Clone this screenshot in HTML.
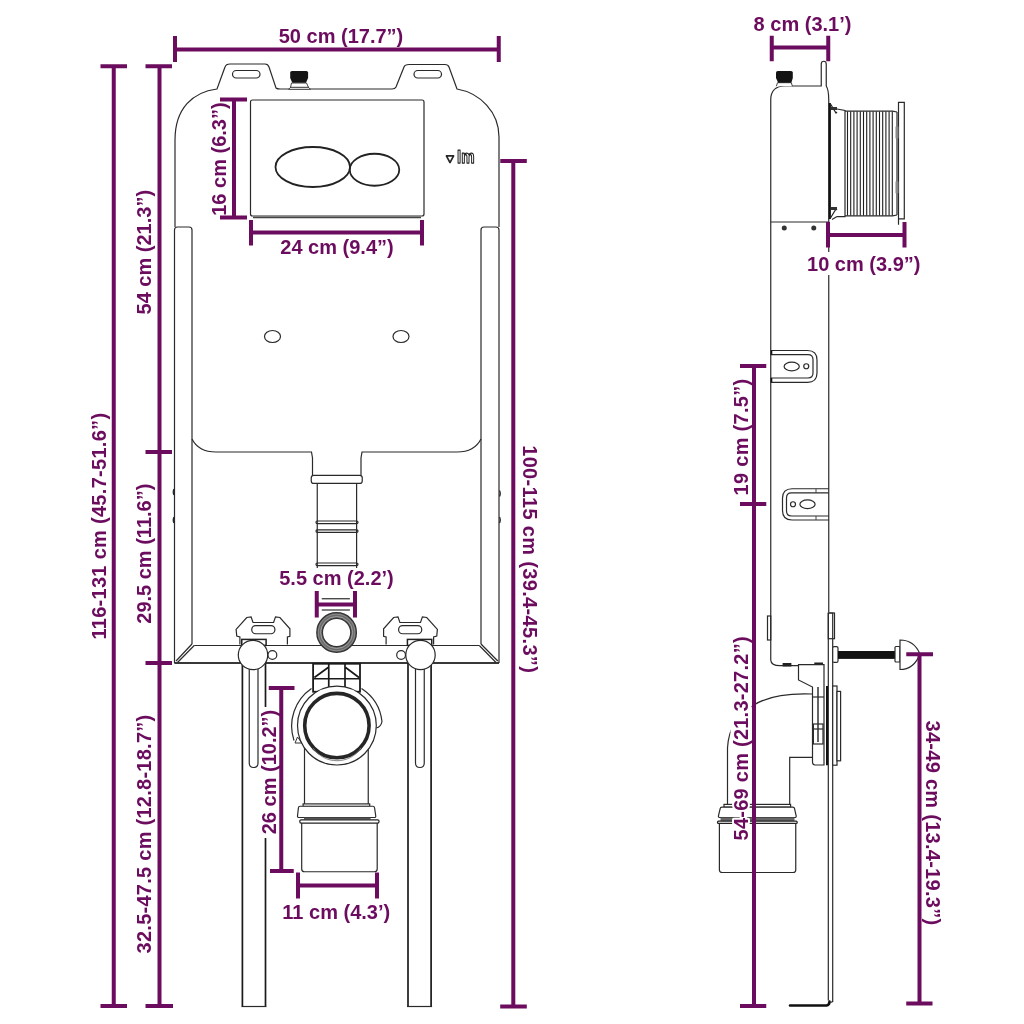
<!DOCTYPE html>
<html><head><meta charset="utf-8">
<style>
html,body{margin:0;padding:0;background:#fff;width:1024px;height:1024px;overflow:hidden}
svg{display:block;will-change:transform}
.t{font-family:"Liberation Sans",sans-serif;font-weight:bold;font-size:20px;fill:#6c0c5e}
.d{stroke:#6c0c5e;stroke-width:4;fill:none}
.k{stroke:#2a2a2a;stroke-width:1.2;fill:none}
.kw{stroke:#2a2a2a;stroke-width:1.2;fill:#fff}
.k2{stroke:#1a1a1a;stroke-width:1.7;fill:none}
</style></head><body>
<svg width="1024" height="1024" viewBox="0 0 1024 1024">
<rect width="1024" height="1024" fill="#fff"/>

<!-- ===== FRONT VIEW ===== -->
<g id="front">
  <!-- tank top outline -->
  <path class="k" d="M175,227 L175,140 C175,108 193,92 217,89 L225,67 Q226,64 230,64 L265,64 Q268,64 269,67 L276,88 Q277,89 280,89 L392,89 Q395,89 396,87 L404,67 Q405,64.5 409,64.5 L445,64.5 Q448,64.5 449,67 L457,89 C480,93 499,112 499,137 L499,227"/>
  <!-- slots -->
  <rect class="k" x="232.5" y="70.5" width="27.5" height="7.5" rx="3.7"/>
  <rect class="k" x="414" y="70.5" width="27.5" height="7.5" rx="3.7"/>
  <!-- knob -->
  <path d="M291.5,83 L306.5,83 L308.5,87.5 L310.5,89.3 L288.5,89.3 L290.5,87.5 Z" fill="#fff" stroke="#444" stroke-width="1"/>
  <line x1="290" y1="87.3" x2="309" y2="87.3" stroke="#333" stroke-width="1"/>
  <path d="M290.2,72.5 Q290.2,71 292,71 L306.3,71 Q308.1,71 308.1,72.5 L308.1,78 L306,82.8 L292.3,82.8 L290.2,78 Z" fill="#141414"/>
  <!-- flush panel -->
  <rect class="k" x="250.5" y="100" width="173.5" height="116" rx="2"/>
  <line x1="253" y1="217.5" x2="421" y2="217.5" stroke="#444" stroke-width="1.4"/>
  <ellipse cx="312.75" cy="167" rx="37.25" ry="20" fill="none" stroke="#222" stroke-width="1.8"/>
  <ellipse cx="374.5" cy="169.75" rx="24.75" ry="16" fill="none" stroke="#222" stroke-width="1.8"/>
  <!-- logo -->
  <path d="M446.4,155.9 L453.6,155.9 L450,162.6 Z" fill="none" stroke="#262626" stroke-width="1.7" stroke-linejoin="round"/>
  <text x="457" y="162.6" font-family="Liberation Sans" font-size="19" font-weight="bold" fill="#fff" stroke="#222" stroke-width="1.25" stroke-linejoin="round" textLength="17.5" lengthAdjust="spacingAndGlyphs">lm</text>
  <!-- side rails -->
  <path class="k" d="M174.5,663 L174.5,230 Q174.5,227 177.5,227 L189,227 Q192,227 192,230 L192,644"/>
  <path class="k" d="M499,663 L499,230 Q499,227 496,227 L484,227 Q481,227 481,230 L481,644"/>
  <!-- rail bumps -->
  <path d="M174,489 Q172.5,492 174,495 M174,517 Q172.5,520 174,523 M499.5,490.5 Q501,493.5 499.5,496.5 M499.5,517 Q501,520 499.5,523" fill="none" stroke="#222" stroke-width="1.3"/>
  <!-- holes -->
  <ellipse class="k" cx="272.5" cy="336.5" rx="8" ry="6"/>
  <ellipse class="k" cx="401" cy="336.5" rx="8" ry="6"/>
  <!-- inner tank bottom -->
  <path class="k" d="M192,439 C196,447 204,452 216,452 L311.5,452 L312.5,458 L312.5,475.3"/>
  <path class="k" d="M481,439 C477,447 469,452 457,452 L362,452 L361,458 L361,475.3"/>
  <!-- collar + tube -->
  <rect class="k" x="311.25" y="475.3" width="51" height="8.1" rx="2.5"/>
  <line class="k" x1="317.25" y1="483.4" x2="317.25" y2="568"/>
  <line class="k" x1="356.6" y1="483.4" x2="356.6" y2="568"/>
  <rect class="k" x="316" y="521" width="42" height="2.6" rx="1.3"/>
  <rect class="k" x="316" y="529.8" width="42" height="2.6" rx="1.3"/>
  <rect class="k" x="316" y="563" width="42" height="2.6" rx="1.3"/>
  <line class="k" x1="321.75" y1="598.75" x2="349.9" y2="598.75"/>
  <line class="k" x1="321.75" y1="610" x2="349.9" y2="610"/>
  <!-- tray -->
  <line class="k" x1="174.5" y1="663" x2="499" y2="663"/>
  <line class="k" x1="194.2" y1="645.5" x2="479.3" y2="645.5"/>
  <line class="k" x1="192" y1="644" x2="176" y2="661"/>
  <line class="k" x1="481" y1="644" x2="497.8" y2="661"/>
  <line x1="174.5" y1="663" x2="499" y2="663" stroke="#1a1a1a" stroke-width="1.4"/>
  <line class="k" x1="194.2" y1="645.5" x2="177.5" y2="662.5"/>
  <line class="k" x1="479.3" y1="645.5" x2="496" y2="662.5"/>
  <!-- small pipe -->
  <circle cx="336.6" cy="632.5" r="17" fill="none" stroke="#6a6a6a" stroke-width="5.5"/>
  <circle cx="336.6" cy="632.5" r="16" fill="none" stroke="#aaa" stroke-width="0.8"/>
  <circle cx="336.6" cy="632.5" r="18.3" fill="none" stroke="#999" stroke-width="0.7"/>
  <circle cx="336.6" cy="632.5" r="19.8" fill="none" stroke="#333" stroke-width="1.3"/>
  <circle cx="336.6" cy="632.5" r="14.2" fill="#fff" stroke="#333" stroke-width="1.3"/>
  <!-- brackets -->
  <g id="brk">
    <path class="kw" d="M239.9,644.4 L239.9,636.9 L236.75,636 L236.1,629.4 L246.75,617.5 L251.1,616.9 L253,622.5 L273.6,622.5 L275.5,616.9 L279.9,617.5 L289.9,628.75 L289.9,636.25 L287.4,636.9 L287.4,644.4"/>
    <rect class="k" x="251.75" y="625.6" width="23.15" height="8.15" rx="4"/>
    <rect x="241.75" y="639.4" width="24.35" height="6" fill="#fff" stroke="#222" stroke-width="1.5"/>
    <!-- leg -->
    <line class="k2" x1="242.4" y1="663" x2="242.4" y2="1006"/>
    <line class="k2" x1="265.5" y1="663" x2="265.5" y2="707"/>
    <line class="k2" x1="265.5" y1="838" x2="265.5" y2="1006"/>
    <path class="k" d="M241.4,1006.5 L266.5,1006.5"/>
    <path class="k" d="M249.25,669 L249.25,763 Q249.25,767.5 253.6,767.5 Q258,767.5 258,763 L258,669"/>
    <circle class="kw" cx="253" cy="655" r="14.7"/>
    <circle class="kw" cx="272.4" cy="655" r="4.4"/>
  </g>
  <g transform="translate(673.5,0) scale(-1,1)">
    <path class="kw" d="M239.9,644.4 L239.9,636.9 L236.75,636 L236.1,629.4 L246.75,617.5 L251.1,616.9 L253,622.5 L273.6,622.5 L275.5,616.9 L279.9,617.5 L289.9,628.75 L289.9,636.25 L287.4,636.9 L287.4,644.4"/>
    <rect class="k" x="251.75" y="625.6" width="23.15" height="8.15" rx="4"/>
    <rect x="241.75" y="639.4" width="24.35" height="6" fill="#fff" stroke="#222" stroke-width="1.5"/>
    <line class="k2" x1="242.4" y1="663" x2="242.4" y2="1006"/>
    <line class="k2" x1="265.5" y1="663" x2="265.5" y2="1006"/>
    <path class="k" d="M241.4,1006.5 L266.5,1006.5"/>
    <path class="k" d="M249.25,669 L249.25,763 Q249.25,767.5 253.6,767.5 Q258,767.5 258,763 L258,669"/>
    <circle class="kw" cx="253" cy="655" r="14.7"/>
    <circle class="kw" cx="272.4" cy="655" r="4.4"/>
  </g>
  <!-- central block -->
  <rect x="313.1" y="663.75" width="46.9" height="28" fill="#fff" stroke="#1a1a1a" stroke-width="1.8"/>
  <path class="k2" d="M328.75,663.75 L328.75,687 M345,663.75 L345,687 M313.1,678.75 L360,678.75 M314.4,677.5 L328.1,667.5 M359,677.5 L345.6,667.5" stroke-width="1.5"/>
  <!-- big pipe -->
  <line class="k" x1="304.5" y1="745" x2="304.5" y2="804"/>
  <line class="k" x1="368.25" y1="745" x2="368.25" y2="804"/>
  <path class="k" d="M311.5,688.5 A45.5,45.5 0 0 0 294,740.5 M361.5,688.5 A45.5,45.5 0 0 1 382,721.5 Q381,727 376.2,728"/>
  <path d="M295,743 L297.5,737 L302,743 Z" fill="none" stroke="#333" stroke-width="1"/>
  <circle class="kw" cx="336.9" cy="725.6" r="39.4"/>
  <circle cx="336.9" cy="725.6" r="32.2" fill="#fff" stroke="#262626" stroke-width="3.6"/>
  <path d="M313,748 A29,29 0 0 0 361,748" fill="none" stroke="#777" stroke-width="0.9"/>
  <!-- lower pipe collars -->
  <rect class="kw" x="303.1" y="803.9" width="66.6" height="2.6"/>
  <path class="kw" d="M300,806.25 L372.8,806.25 Q374.4,806.25 374.6,808 L375.75,816 Q375.9,817.5 374.3,817.5 L299,817.5 Q297.4,817.5 297.5,816 L298.4,808 Q298.6,806.25 300,806.25 Z"/>
  <rect x="304" y="817.5" width="66.6" height="2.1" fill="#555"/>
  <rect x="299.8" y="819.8" width="79.2" height="3.3" rx="1.3" fill="#fff" stroke="#222" stroke-width="1.2"/>
  <path class="k" d="M301.7,823.1 L301.7,869 Q301.7,871.75 304.5,871.75 L374.5,871.75 Q377.2,871.75 377.2,869 L377.2,823.1"/>
</g>

<!-- ===== SIDE VIEW ===== -->
<g id="side">
  <path class="k" d="M770.75,222 L770.75,100 Q770.75,86 785,86 L821.25,86 L821.25,64 Q821.25,61.25 823.75,61.25 Q826.25,61.25 826.25,64 L826.25,86 Q828.75,90 828.75,100 L828.75,222"/>
  <path d="M776.4,86.2 L777.5,82.7 L791.3,82.7 L792.4,86.2" fill="#fff" stroke="#444" stroke-width="1"/>
  <path d="M776,72.5 Q776,71 777.8,71 L791,71 Q792.8,71 792.8,72.5 L792.8,78 L791.3,82.7 L778.2,82.7 L776,78 Z" fill="#141414"/>
  <!-- flush mechanism -->
  <line x1="829.8" y1="103" x2="829.8" y2="219" stroke="#111" stroke-width="2.2"/>
  <path d="M830.5,104 L836,113 L837,112 M830.5,218 L836,209 L837,210" fill="none" stroke="#222" stroke-width="1.2"/>
  <rect x="831" y="107" width="6" height="3" fill="#333"/>
  <rect x="831" y="207" width="6" height="3" fill="#333"/>
  <path class="k" d="M837,109 L845,110.5 L845,216.6 L837,216.6 M832,219.5 L837,216.6"/>
  <path class="k" d="M845,111.2 L892.6,111.2 L897,112 M845,215.9 L892.6,215.9 L897,215"/>
  <g stroke="#1e1e1e" stroke-width="1.1"><line x1="847.5" y1="111.5" x2="847.5" y2="215.5"/><line x1="850.7" y1="111.5" x2="850.7" y2="215.5"/><line x1="853.9" y1="111.5" x2="853.9" y2="215.5"/><line x1="857.1" y1="111.5" x2="857.1" y2="215.5"/><line x1="860.3" y1="111.5" x2="860.3" y2="215.5"/><line x1="863.5" y1="111.5" x2="863.5" y2="215.5"/><line x1="866.7" y1="111.5" x2="866.7" y2="215.5"/><line x1="869.9" y1="111.5" x2="869.9" y2="215.5"/><line x1="873.1" y1="111.5" x2="873.1" y2="215.5"/><line x1="876.3" y1="111.5" x2="876.3" y2="215.5"/><line x1="879.5" y1="111.5" x2="879.5" y2="215.5"/><line x1="882.7" y1="111.5" x2="882.7" y2="215.5"/><line x1="885.9" y1="111.5" x2="885.9" y2="215.5"/><line x1="889.1" y1="111.5" x2="889.1" y2="215.5"/><line x1="892.3" y1="111.5" x2="892.3" y2="215.5"/></g>
  <line class="k" x1="897" y1="112" x2="897" y2="215"/>
  <path class="k" d="M898.5,102.4 L904.3,102.4 L904.3,218.8 L898.5,218.8 Z M898.5,218.8 L898.5,224.7"/>
  <rect x="895.5" y="126.6" width="3" height="11.7" fill="#888"/>
  <rect x="895.5" y="181.5" width="3" height="11.7" fill="#888"/>
  <!-- rail -->
  <line class="k" x1="770.75" y1="222" x2="828.75" y2="222"/>
  <circle cx="784.25" cy="228" r="2.5" fill="#333"/>
  <circle cx="813.75" cy="228" r="2.5" fill="#333"/>
  <path class="k" d="M770.75,222 L770.75,660 Q771,665.7 780,665.7 L798.4,665.7"/>
  <line class="k" x1="828.75" y1="247" x2="828.75" y2="252"/><line class="k" x1="828.75" y1="275" x2="828.75" y2="612.5"/>
  <!-- bracket 1 -->
  <path class="k" d="M770.75,350.5 L807.5,350.5 Q817,350.5 817,360 L817,373 Q817,382.3 807.5,382.3 L770.75,382.3 M770.75,354.6 L808,354.6 Q813,354.6 813,359.6 L813,373 Q813,378 808,378 L770.75,378"/>
  <path d="M771.5,350.5 L771.5,354.6 M771.5,378 L771.5,382.3" stroke="#111" stroke-width="1.6"/>
  <ellipse class="k" cx="791.7" cy="366.5" rx="7.6" ry="4.3"/>
  <circle class="k" cx="806.25" cy="366.25" r="2.5"/>
  <!-- bracket 2 -->
  <path class="k" d="M828.75,488.75 L792,488.75 Q782.5,488.75 782.5,498.25 L782.5,510.5 Q782.5,520 792,520 L828.75,520 M828.75,492.9 L791.5,492.9 Q786.5,492.9 786.5,497.9 L786.5,511 Q786.5,516 791.5,516 L828.75,516"/>
  <ellipse class="k" cx="807.5" cy="504.25" rx="7.6" ry="4.3"/>
  <circle class="k" cx="793" cy="504.25" r="2.5"/>
  <path d="M816,488.75 L816,493 M816,516 L816,520" stroke="#444" stroke-width="1"/>
  <!-- small tab -->
  <rect class="k" x="767.5" y="616" width="3.25" height="24"/>
  <!-- lower plate -->
  <path class="k" d="M828.3,613 L832.7,613 L832.7,1001.5 L830.5,1002.5 M828.3,613 L828.3,1000.5"/>
  <rect class="k" x="828.3" y="613" width="6.2" height="25.7"/>
  <path d="M790,1005.5 L826.5,1005.5 Q829.5,1005 829.5,1001.5" fill="none" stroke="#111" stroke-width="2.6" stroke-linecap="round"/>
  <!-- bolt -->
  <rect class="kw" x="832.7" y="646.6" width="5.3" height="15.8" rx="1.5"/>
  <rect x="838" y="651" width="57" height="7.9" fill="#111"/>
  <rect class="kw" x="895" y="646.5" width="5" height="15.5" rx="1"/>
  <path class="kw" d="M900,640 Q914,640 920,654 Q914,669.5 900,669.5 Z"/>
  <!-- black pads -->
  <rect x="782.6" y="663" width="8.8" height="3.5" fill="#222"/>
  <rect x="814.3" y="662.5" width="8.7" height="3" fill="#222"/>
  <!-- flange / bracket below tank -->
  <path class="kw" d="M798.5,664.7 L824,664.7 L824,765 L815,765 Q812.5,765 812.5,761.7 L812.5,687 L798.5,680 Z"/>
  <line x1="827" y1="686" x2="827" y2="765.2" stroke="#111" stroke-width="2"/>
  <rect class="kw" x="832.7" y="686" width="4.3" height="79.2"/>
  <rect class="kw" x="837" y="691.4" width="3.6" height="69.4"/>
  <line x1="818" y1="687" x2="818" y2="742" stroke="#111" stroke-width="1.3"/>
  <line class="k" x1="812.5" y1="697" x2="824" y2="697"/>
  <rect class="k" x="813.4" y="724" width="9.6" height="20"/>
  <line class="k" x1="813.4" y1="729" x2="823" y2="729"/>
  <!-- elbow -->
  <path class="k" d="M812,694 C785,693 765,698 753.9,705 C738,714 728.5,728 727.5,748 L727.5,804.4"/>
  <path class="k" d="M812,757.3 L789.7,757.3 L789.7,804.4"/>
  <rect class="kw" x="724" y="804.4" width="66.6" height="2.8"/>
  <path class="kw" d="M722,807.2 L792.8,807.2 Q794.4,807.2 794.6,809 L796.2,816 Q796.3,817.5 794.7,817.5 L720,817.5 Q718.3,817.5 718.4,816 L720.1,809 Q720.3,807.2 722,807.2 Z"/>
  <rect x="720.5" y="817.5" width="74" height="3.7" fill="#666"/>
  <rect x="717.5" y="821.2" width="79.7" height="2.2" rx="1" fill="#fff" stroke="#222" stroke-width="1.2"/>
  <path class="k" d="M719.4,823.4 L719.4,870 Q719.4,872.5 722.4,872.5 L793,872.5 Q795.75,872.5 795.75,870 L795.75,823.4"/>
</g>

<!-- halo -->
<rect x="730.5" y="698" width="21" height="40" fill="#fff"/>
<text class="t" transform="translate(748,738.45) rotate(-90)" text-anchor="middle" textLength="204" lengthAdjust="spacing" style="fill:#fff;stroke:#fff;stroke-width:4;stroke-linejoin:round">54-69 cm (21.3-27.2”)</text>
<!-- ===== DIMENSIONS ===== -->
<g class="d">
  <!-- 50cm -->
  <path d="M175,49.5 H498.75 M175,36 V62 M498.75,36 V62"/>
  <!-- 116-131 -->
  <path d="M113.75,66.25 V1006 M100.5,66.25 H127 M100.5,1006 H127"/>
  <!-- 54 / 29.5 / 32.5 -->
  <path d="M159.5,66.25 V1006 M145.5,66.25 H172 M145.5,452 H172 M145.5,663 H172 M145.5,1006 H173"/>
  <!-- 100-115 -->
  <path d="M513.3,161 V1006.5 M500.3,161 H526.8 M500.2,1006.5 H526.8"/>
  <!-- 16cm -->
  <path d="M234,99.5 V217.5 M220,99.5 H247 M220,217.5 H247"/>
  <!-- 24cm -->
  <path d="M251,232.5 H422 M251,220 V245.5 M422,220 V245.5"/>
  <!-- 5.5cm -->
  <path d="M316.75,604.4 H355 M316.75,591 V617.5 M355,591 V617.5"/>
  <!-- 26cm -->
  <path d="M281.25,688 V871 M268.75,688 H294.5 M270,871 H293.75"/>
  <!-- 11cm -->
  <path d="M298,885.5 H377 M298,872.5 V898.5 M377,872.5 V898.5"/>
  <!-- 8cm -->
  <path d="M771.75,47.5 H828.25 M771.75,35.75 V61.25 M828.25,35.75 V61.25"/>
  <!-- 10cm -->
  <path d="M828,235 H904.5 M828,222 V247.5 M904.5,222 V247.5"/>
  <!-- 19 / 54-69 -->
  <path d="M754,366 V1006 M740,366 H766.25 M740,504 H766.25 M740,1006 H766.25"/>
  <!-- 34-49 -->
  <path d="M919.5,654.25 V1003.5 M906.25,654.25 H933 M906.25,1003.5 H932.5"/>
</g>

<!-- ===== TEXTS ===== -->
<g class="t">
  <text x="341" y="43" text-anchor="middle">50 cm (17.7”)</text>
  <text x="337" y="254" text-anchor="middle">24 cm (9.4”)</text>
  <text x="336.5" y="584.6" text-anchor="middle">5.5 cm (2.2’)</text>
  <text x="336.25" y="919.25" text-anchor="middle">11 cm (4.3’)</text>
  <text x="802.5" y="30.5" text-anchor="middle">8 cm (3.1’)</text>
  <text x="863.75" y="271.25" text-anchor="middle">10 cm (3.9”)</text>
  <text transform="translate(225.5,159.1) rotate(-90)" text-anchor="middle">16 cm (6.3”)</text>
  <text transform="translate(151.3,252.2) rotate(-90)" text-anchor="middle">54 cm (21.3”)</text>
  <text transform="translate(151.3,553.7) rotate(-90)" text-anchor="middle">29.5 cm (11.6”)</text>
  <text transform="translate(151.3,834.1) rotate(-90)" text-anchor="middle" textLength="238.6" lengthAdjust="spacing">32.5-47.5 cm (12.8-18.7”)</text>
  <text transform="translate(105.5,526.25) rotate(-90)" text-anchor="middle" textLength="226.7" lengthAdjust="spacing">116-131 cm (45.7-51.6”)</text>
  <text transform="translate(522.6,559) rotate(90)" text-anchor="middle" textLength="227.7" lengthAdjust="spacing">100-115 cm (39.4-45.3”)</text>
  <text transform="translate(275.5,772) rotate(-90)" text-anchor="middle">26 cm (10.2”)</text>
  <text transform="translate(747.5,437.15) rotate(-90)" text-anchor="middle" textLength="116.6" lengthAdjust="spacing">19 cm (7.5”)</text>
  <text transform="translate(748,738.45) rotate(-90)" text-anchor="middle" textLength="204" lengthAdjust="spacing">54-69 cm (21.3-27.2”)</text>
  <text transform="translate(926,822.8) rotate(90)" text-anchor="middle" textLength="204.6" lengthAdjust="spacing">34-49 cm (13.4-19.3”)</text>
</g>
</svg>
</body></html>
